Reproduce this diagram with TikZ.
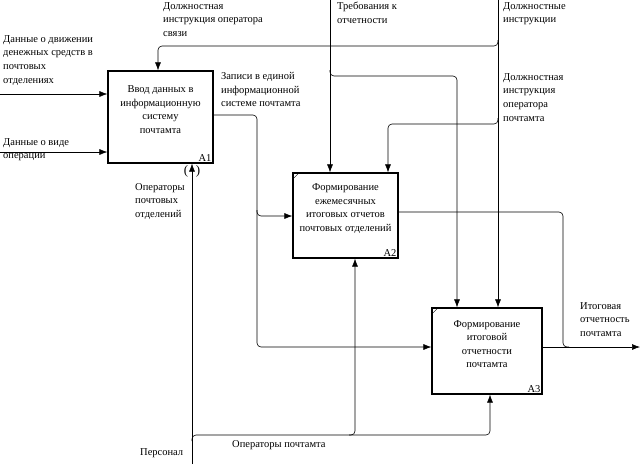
\documentclass[tikz,border=0pt]{standalone}
\usepackage{fontspec}
\setmainfont{Liberation Serif}
\usetikzlibrary{arrows.meta}
\begin{document}
\begin{tikzpicture}[x=1pt,y=-1pt,
    flow/.style={draw, line width=0.6pt, rounded corners=4pt, -{Latex[length=8pt,width=6pt]}},
    link/.style={draw, line width=0.6pt, rounded corners=4pt},
    procbox/.style={draw, line width=1.2pt, inner sep=0pt},
    boxtext/.style={align=center, inner sep=0pt, font=\fontsize{10.5}{13.5}\selectfont},
    lbl/.style={align=left, anchor=north west, inner sep=0pt, font=\fontsize{10.5}{13.8}\selectfont},
    num/.style={anchor=south east, inner sep=2pt, font=\fontsize{10.5}{12}\selectfont},
    tunnel/.style={inner sep=0pt, font=\fontsize{13}{14}\selectfont}]
    \useasboundingbox (0,0) rectangle (642,464);
    % boxes
    \node[procbox, minimum width=105pt, minimum height=92pt] (a1) at (160.5,117) {};
    \node[procbox, minimum width=105pt, minimum height=85pt] (a2) at (345.5,215.5) {};
    \node[procbox, minimum width=110pt, minimum height=86pt] (a3) at (487,351) {};
    \node[boxtext] at ([yshift=7.5pt]a1.center) {Ввод данных в\\информационную\\систему\\почтамта};
    \node[boxtext] at ([yshift=7pt]a2.center) {Формирование\\ежемесячных\\итоговых отчетов\\почтовых отделений};
    \node[boxtext] at ([yshift=7pt]a3.center) {Формирование\\итоговой\\отчетности\\почтамта};
    \node[num] at (a1.south east) {A1};
    \node[num] at (a2.south east) {A2};
    \node[num] at (a3.south east) {A3};
    \draw (a2.north west) ++(0,7) -- ++(7,-7);
    \draw (a3.north west) ++(0,7) -- ++(7,-7);
    % end points and bends
    \coordinate (in1) at (0,94);
    \coordinate (in2) at (0,152);
    \coordinate (ctl1) at (498,0);
    \coordinate (ctl2) at (330,0);
    \coordinate (mech) at (192,464);
    \coordinate (out3) at (640,347);
    \coordinate (j1) at (498,46);
    \coordinate (t1) at (158,46);
    \coordinate (j2) at (498,124);
    \coordinate (t2) at (388,124);
    \coordinate (j3) at (330,76);
    \coordinate (t3) at (457,76);
    \coordinate (o1) at (257,115);
    \coordinate (o1b) at (257,216);
    \coordinate (o1c) at (257,347);
    \coordinate (o2) at (563,212);
    \coordinate (o2b) at (563,347);
    \coordinate (m1) at (192,435);
    \coordinate (m2) at (490,435);
    \coordinate (m3) at (355,435);
    % inputs
    \draw[flow] (in1) -- (in1 -| a1.west);
    \draw[flow] (in2) -- (in2 -| a1.west);
    % controls
    \draw[flow] (ctl1) -- (ctl1 |- a3.north);
    \draw[flow] ([yshift=6pt]j1) -- (j1) -- (t1) -- (t1 |- a1.north);
    \draw[flow] ([yshift=6pt]j2) -- (j2) -- (t2) -- (t2 |- a2.north);
    \draw[flow] (ctl2) -- (ctl2 |- a2.north);
    \draw[flow] ([yshift=6pt]j3) -- (j3) -- (t3) -- (t3 |- a3.north);
    % outputs
    \draw[flow] (o1 -| a1.east) -- (o1) -- (o1c) -- (o1c -| a3.west);
    \draw[flow] ([yshift=6pt]o1b) -- (o1b) -- (o1b -| a2.west);
    \draw[link] (o2 -| a2.east) -- (o2) -- (o2b) -- ([xshift=6pt]o2b);
    \draw[flow] (o2b -| a3.east) -- (out3);
    % mechanisms
    \draw[flow] (mech) -- (mech |- a1.south);
    \draw[flow] ([yshift=-6pt]m1) -- (m1) -- (m2) -- (m2 |- a3.south);
    \draw[flow] ([xshift=-6pt]m3) -- (m3) -- (m3 |- a2.south);
    \node[tunnel] at (186,171) {(};
    \node[tunnel] at (198,171) {)};
    % labels
    \node[lbl] at (3,35) {Данные о движении\\денежных средств в\\почтовых\\отделениях};
    \node[lbl] at (3,138) {Данные о виде\\операции};
    \node[lbl] at (163,2) {Должностная\\инструкция оператора\\связи};
    \node[lbl] at (337,2) {Требования к\\отчетности};
    \node[lbl] at (503,2) {Должностные\\инструкции};
    \node[lbl] at (503,73) {Должностная\\инструкция\\оператора\\почтамта};
    \node[lbl] at (221,72) {Записи в единой\\информационной\\системе почтамта};
    \node[lbl] at (135,183) {Операторы\\почтовых\\отделений};
    \node[lbl] at (232,440) {Операторы почтамта};
    \node[lbl] at (140,448) {Персонал};
    \node[lbl] at (580,302) {Итоговая\\отчетность\\почтамта};
\end{tikzpicture}
\end{document}
